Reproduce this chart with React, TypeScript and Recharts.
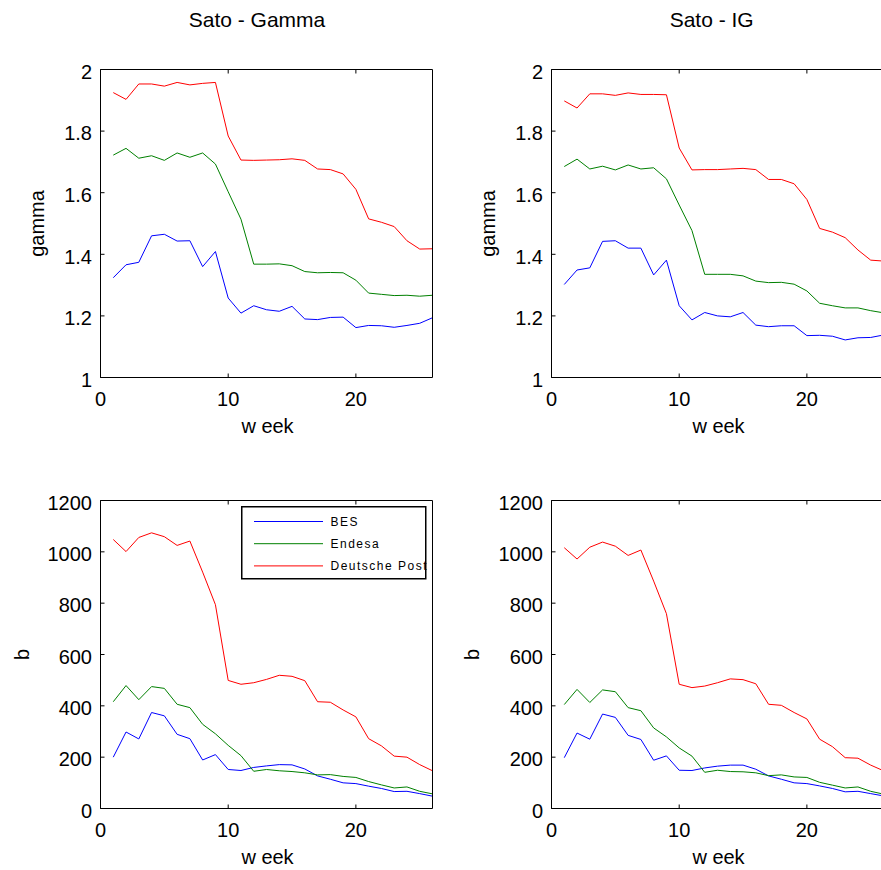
import React from 'react';
import { LineChart, Line, XAxis, YAxis, Legend, Label } from 'recharts';

const weeks = [1, 2, 3, 4, 5, 6, 7, 8, 9, 10, 11, 12, 13, 14, 15, 16, 17, 18, 19, 20, 21, 22, 23, 24, 25, 26];

const seriesNames = ['BES', 'Endesa', 'Deutsche Post'];
const seriesColors = ['#0000ff', '#008000', '#ff0000'];

// Sato - Gamma : gamma
const gammaG_BES = [1.324, 1.366, 1.374, 1.46, 1.465, 1.443, 1.444, 1.36, 1.409, 1.258, 1.209, 1.233, 1.22, 1.215, 1.231, 1.19, 1.188, 1.195, 1.196, 1.162, 1.169, 1.168, 1.163, 1.169, 1.176, 1.194];
const gammaG_Endesa = [1.722, 1.744, 1.712, 1.72, 1.705, 1.729, 1.715, 1.729, 1.693, 1.603, 1.514, 1.368, 1.368, 1.369, 1.363, 1.344, 1.34, 1.341, 1.34, 1.316, 1.274, 1.27, 1.266, 1.267, 1.264, 1.267];
const gammaG_Post = [1.925, 1.903, 1.953, 1.953, 1.946, 1.958, 1.95, 1.955, 1.958, 1.784, 1.706, 1.705, 1.706, 1.707, 1.71, 1.705, 1.677, 1.675, 1.661, 1.611, 1.515, 1.504, 1.49, 1.444, 1.417, 1.418];

// Sato - IG : gamma
const gammaIG_BES = [1.302, 1.349, 1.356, 1.442, 1.444, 1.42, 1.42, 1.333, 1.381, 1.233, 1.187, 1.211, 1.2, 1.197, 1.211, 1.17, 1.165, 1.168, 1.168, 1.136, 1.137, 1.134, 1.122, 1.129, 1.13, 1.138];
const gammaIG_Endesa = [1.685, 1.709, 1.677, 1.686, 1.674, 1.69, 1.677, 1.681, 1.645, 1.56, 1.477, 1.335, 1.335, 1.335, 1.33, 1.313, 1.308, 1.309, 1.303, 1.281, 1.241, 1.233, 1.226, 1.226, 1.217, 1.21];
const gammaIG_Post = [1.898, 1.875, 1.921, 1.921, 1.916, 1.924, 1.919, 1.919, 1.918, 1.745, 1.674, 1.675, 1.675, 1.677, 1.679, 1.675, 1.643, 1.643, 1.629, 1.578, 1.484, 1.472, 1.454, 1.414, 1.381, 1.378];

// Sato - Gamma : b
const bG_BES = [200, 298, 271, 374, 361, 289, 272, 189, 210, 152, 148, 160, 166, 171, 170, 154, 127, 114, 100, 97, 87, 78, 66, 67, 58, 48];
const bG_Endesa = [416, 479, 424, 475, 468, 406, 393, 328, 291, 246, 206, 145, 152, 147, 144, 139, 131, 132, 125, 121, 105, 92, 80, 84, 67, 57];
const bG_Post = [1048, 1001, 1056, 1074, 1059, 1025, 1042, 921, 794, 499, 484, 490, 503, 519, 515, 498, 416, 414, 384, 357, 272, 244, 204, 200, 171, 147];

// Sato - IG : b
const bIG_BES = [198, 294, 270, 368, 355, 285, 269, 188, 205, 149, 148, 158, 165, 169, 169, 153, 127, 114, 100, 97, 88, 78, 65, 67, 58, 49];
const bIG_Endesa = [405, 464, 413, 462, 455, 393, 381, 314, 279, 236, 204, 141, 149, 144, 143, 139, 128, 131, 123, 121, 102, 91, 80, 84, 67, 56];
const bIG_Post = [1016, 972, 1018, 1038, 1022, 986, 1007, 886, 759, 484, 471, 477, 490, 505, 502, 486, 406, 402, 374, 349, 270, 241, 198, 196, 169, 147];

const xTicks = [0, 10, 20];
const xTickLabels = ['0', '10', '20'];
const gammaTicks = [1, 1.2, 1.4, 1.6, 1.8, 2];
const gammaTickLabels = ['1', '1.2', '1.4', '1.6', '1.8', '2'];
const bTicks = [0, 200, 400, 600, 800, 1000, 1200];
const bTickLabels = ['0', '200', '400', '600', '800', '1000', '1200'];

const titles = ['Sato - Gamma', 'Sato - IG'];
const xLabel = 'w eek';
const yLabels = ['gamma', 'b'];

const build = (a: number[], b: number[], c: number[]) =>
  weeks.map((w, i) => ({ week: w, s0: a[i], s1: b[i], s2: c[i] }));

const FONT = '"Liberation Sans", Arial, Helvetica, sans-serif';
const PLOT_W = 332;
const PLOT_H = 308;
const TICK = 4;

const labelFor = (ticks: number[], labels: string[], v: number) => {
  const i = ticks.indexOf(v);
  return i >= 0 ? labels[i] : String(v);
};

const renderLegend = (props: any) => {
  const raw = props.payload || [];
  const payload = seriesNames
    .map((n) => raw.find((p: any) => p.value === n))
    .filter(Boolean);
  return (
    <svg width={188} height={76} style={{ overflow: 'visible', display: 'block' }}>
      <rect x={0.75} y={0.75} width={184} height={72} fill="#fff" stroke="none" />
      {payload.map((p: any, i: number) => (
        <g key={i}>
          <line x1={13} x2={82} y1={15.5 + i * 22.2} y2={15.5 + i * 22.2} stroke={p.color} strokeWidth={1} />
          <text x={89.5} y={19.8 + i * 22.2} fontSize={12} letterSpacing={1.5} fontFamily={FONT} fill="#000">
            {p.value}
          </text>
        </g>
      ))}
      <rect x={0.75} y={0.75} width={184} height={72} fill="none" stroke="#000" strokeWidth={1.5} />
    </svg>
  );
};

type PanelProps = {
  left: number;
  top: number;
  width: number;
  height: number;
  plotLeft: number;
  plotTop: number;
  data: any[];
  yDomain: [number, number];
  yTicks: number[];
  yTickLabels: string[];
  title?: string;
  titleX?: number;
  yLabel: string;
  yLabelOffset: number;
  showLegend?: boolean;
};

function Panel(p: PanelProps) {
  // each axis is 1px thick, so margins are reduced by 1 so the plot area lands on plotLeft/plotTop
  const margin = {
    left: p.plotLeft - 1,
    top: p.plotTop - 1,
    right: p.width - p.plotLeft - PLOT_W - 1,
    bottom: p.height - p.plotTop - PLOT_H - 1,
  };
  const plotBottom = p.plotTop + PLOT_H;
  const yLabelX = p.plotLeft - p.yLabelOffset;
  const yLabelY = p.plotTop + PLOT_H / 2;

  const leftTick = (t: any) => (
    <g>
      <line x1={t.x} y1={t.y} x2={t.x + TICK} y2={t.y} stroke="#000" strokeWidth={1} />
      <text x={t.x - 8.5} y={t.y + 9.3} textAnchor="end" fontSize={20} fontFamily={FONT} fill="#000">
        {labelFor(p.yTicks, p.yTickLabels, t.payload.value)}
      </text>
    </g>
  );
  const rightTick = (t: any) => (
    <line x1={t.x} y1={t.y} x2={t.x - TICK} y2={t.y} stroke="#000" strokeWidth={1} />
  );
  const bottomTick = (t: any) => (
    <g>
      <line x1={t.x} y1={t.y} x2={t.x} y2={t.y - TICK} stroke="#000" strokeWidth={1} />
      <text x={t.x} y={t.y + 28.5} textAnchor="middle" fontSize={20} fontFamily={FONT} fill="#000">
        {labelFor(xTicks, xTickLabels, t.payload.value)}
      </text>
    </g>
  );
  const topTick = (t: any) => (
    <line x1={t.x} y1={t.y} x2={t.x} y2={t.y + TICK} stroke="#000" strokeWidth={1} />
  );

  return (
    <div style={{ position: 'absolute', left: p.left, top: p.top }}>
      <LineChart width={p.width} height={p.height} data={p.data} margin={margin}>
        <XAxis
          xAxisId="b"
          dataKey="week"
          type="number"
          domain={[0, 26]}
          ticks={xTicks}
          interval={0}
          height={1}
          tickSize={0}
          tickMargin={0}
          tickLine={false}
          axisLine={{ stroke: '#000', strokeWidth: 1 }}
          tick={bottomTick}
        >
          <Label
            content={() => (
              <text x={p.plotLeft + 167} y={plotBottom + 55.5} textAnchor="middle" fontSize={20} fontFamily={FONT} fill="#000">
                {xLabel}
              </text>
            )}
          />
        </XAxis>
        <XAxis
          xAxisId="t"
          orientation="top"
          dataKey="week"
          type="number"
          domain={[0, 26]}
          ticks={xTicks}
          interval={0}
          height={1}
          tickSize={0}
          tickMargin={0}
          tickLine={false}
          axisLine={{ stroke: '#000', strokeWidth: 1 }}
          tick={topTick}
        >
          {p.title ? (
            <Label
              content={() => (
                <text x={p.titleX} y={p.plotTop - 42.8} textAnchor="middle" fontSize={21} fontFamily={FONT} fill="#000">
                  {p.title}
                </text>
              )}
            />
          ) : null}
        </XAxis>
        <YAxis
          yAxisId="l"
          type="number"
          domain={p.yDomain}
          ticks={p.yTicks}
          interval={0}
          width={1}
          tickSize={0}
          tickMargin={0}
          tickLine={false}
          axisLine={{ stroke: '#000', strokeWidth: 1 }}
          tick={leftTick}
        >
          <Label
            content={() => (
              <text
                x={yLabelX}
                y={yLabelY}
                transform={`rotate(-90 ${yLabelX} ${yLabelY})`}
                textAnchor="middle"
                fontSize={20}
                fontFamily={FONT}
                fill="#000"
              >
                {p.yLabel}
              </text>
            )}
          />
        </YAxis>
        <YAxis
          yAxisId="r"
          orientation="right"
          type="number"
          domain={p.yDomain}
          ticks={p.yTicks}
          interval={0}
          width={1}
          tickSize={0}
          tickMargin={0}
          tickLine={false}
          axisLine={{ stroke: '#000', strokeWidth: 1 }}
          tick={rightTick}
        />
        {seriesNames.map((n, i) => (
          <Line
            key={n}
            xAxisId="b"
            yAxisId="l"
            type="linear"
            dataKey={`s${i}`}
            name={n}
            stroke={seriesColors[i]}
            strokeWidth={1}
            dot={false}
            activeDot={false}
            isAnimationActive={false}
          />
        ))}
        {p.showLegend ? (
          <Legend
            layout="vertical"
            align="center"
            verticalAlign="middle"
            content={renderLegend}
            wrapperStyle={{ left: 241.25, top: 66.25, width: 188, height: 76 }}
          />
        ) : null}
      </LineChart>
    </div>
  );
}

export default function App() {
  return (
    <div
      style={{
        position: 'absolute',
        left: 0,
        top: 0,
        width: 881,
        height: 870,
        overflow: 'hidden',
        background: '#fff',
      }}
    >
      <Panel
        left={0}
        top={0}
        width={450}
        height={440}
        plotLeft={100.5}
        plotTop={69.5}
        data={build(gammaG_BES, gammaG_Endesa, gammaG_Post)}
        yDomain={[1, 2]}
        yTicks={gammaTicks}
        yTickLabels={gammaTickLabels}
        title={titles[0]}
        titleX={257}
        yLabel={yLabels[0]}
        yLabelOffset={56.5}
      />
      <Panel
        left={450}
        top={0}
        width={440}
        height={440}
        plotLeft={101.5}
        plotTop={69.5}
        data={build(gammaIG_BES, gammaIG_Endesa, gammaIG_Post)}
        yDomain={[1, 2]}
        yTicks={gammaTicks}
        yTickLabels={gammaTickLabels}
        title={titles[1]}
        titleX={261.7}
        yLabel={yLabels[0]}
        yLabelOffset={57}
      />
      <Panel
        left={0}
        top={440}
        width={450}
        height={430}
        plotLeft={100.5}
        plotTop={60.5}
        data={build(bG_BES, bG_Endesa, bG_Post)}
        yDomain={[0, 1200]}
        yTicks={bTicks}
        yTickLabels={bTickLabels}
        yLabel={yLabels[1]}
        yLabelOffset={71.2}
        showLegend
      />
      <Panel
        left={450}
        top={440}
        width={440}
        height={430}
        plotLeft={101.5}
        plotTop={60.5}
        data={build(bIG_BES, bIG_Endesa, bIG_Post)}
        yDomain={[0, 1200]}
        yTicks={bTicks}
        yTickLabels={bTickLabels}
        yLabel={yLabels[1]}
        yLabelOffset={72.2}
      />
    </div>
  );
}
